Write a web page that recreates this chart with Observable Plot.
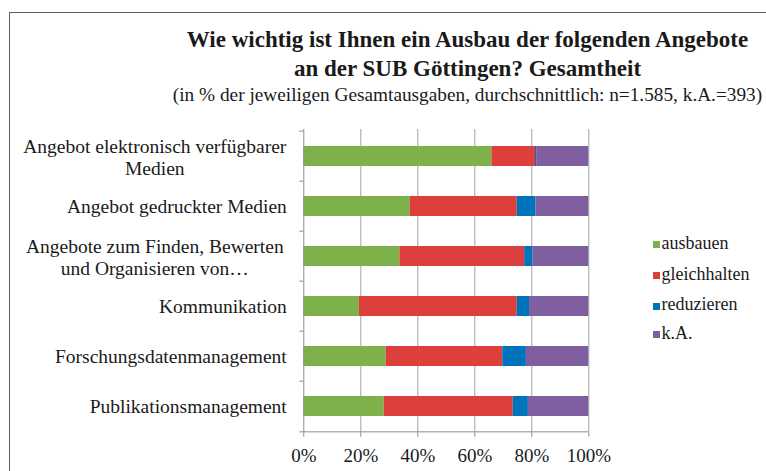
<!DOCTYPE html>
<html>
<head>
<meta charset="utf-8">
<script src="https://cdn.jsdelivr.net/npm/d3@7"></script>
<script src="https://cdn.jsdelivr.net/npm/@observablehq/plot@0.6"></script>
<style>
  html, body { margin: 0; padding: 0; background: #fff; }
  #wrap { position: relative; width: 766px; height: 471px; overflow: hidden; font-family: 'Liberation Serif', 'Times New Roman', serif; color: #1a1a1a; }
  #frame { position: absolute; left: 9px; top: 12px; width: 800px; height: 520px; border: 1.5px solid #5e5e5e; box-sizing: border-box; }
  .t { position: absolute; left: 167.5px; width: 600px; text-align: center; white-space: nowrap; font-family: 'Liberation Serif', serif; }
  .title { font-weight: bold; font-size: 23px; line-height: 23px; }
  .sub { font-size: 19.3px; line-height: 19px; }
  #chart { position: absolute; left: 0; top: 0; }
  .lg { position: absolute; left: 653px; }
  .sw { position: absolute; width: 7px; height: 7px; }
  .lt { position: absolute; left: 8.5px; font-size: 18px; line-height: 18px; white-space: nowrap; font-family: 'Liberation Serif', serif; }
  svg g[aria-label="x-axis tick label"], svg g[aria-label="x-axis tick label"] text { fill: #1a1a1a; }
</style>
</head>
<body>
<div id="wrap">
  <div id="frame"></div>
  <div id="chart"></div>
  <div class="t title" style="top:27.7px">Wie wichtig ist Ihnen ein Ausbau der folgenden Angebote</div>
  <div class="t title" style="top:56.7px">an der SUB Göttingen? Gesamtheit</div>
  <div class="t sub" style="top:85px">(in % der jeweiligen Gesamtausgaben, durchschnittlich: n=1.585, k.A.=393)</div>
  <div id="legend"></div>
</div>
<script>
const categories = [
  "Angebot elektronisch verfügbarer\nMedien",
  "Angebot gedruckter Medien",
  "Angebote zum Finden, Bewerten\nund Organisieren von…",
  "Kommunikation",
  "Forschungsdatenmanagement",
  "Publikationsmanagement"
];
const series = ["ausbauen", "gleichhalten", "reduzieren", "k.A."];
const ausbauen     = [66.0, 37.4, 33.7, 19.5, 28.9, 28.2];
const gleichhalten = [15.3, 37.5, 43.8, 55.4, 40.9, 45.3];
const reduzieren   = [0.4,  6.6,  2.9,  4.3,  8.3,  5.3];
const keineAngabe  = [18.3, 18.5, 19.6, 20.8, 21.9, 21.2];
const xTicks = [0, 20, 40, 60, 80, 100];
const colors = ["#7db14a", "#dd3f3d", "#0073bd", "#7f5fa0"];

const valuesBySeries = [ausbauen, gleichhalten, reduzieren, keineAngabe];
const rows = [];
categories.forEach((c, i) => {
  series.forEach((s, j) => rows.push({category: c, series: s, value: valuesBySeries[j][i]}));
});

const multi = categories.filter(c => c.includes("\n"));
const single = categories.filter(c => !c.includes("\n"));
const step = (433 - 129) / categories.length;
const axisGray = "#8c8c8c";

const chart = Plot.plot({
  width: 766,
  height: 471,
  marginLeft: 303.3,
  marginRight: 177.7,
  marginTop: 129,
  marginBottom: 38.3,
  style: {fontFamily: "'Liberation Serif', 'Times New Roman', serif", fontSize: "19px", color: axisGray, background: "transparent", overflow: "visible"},
  x: {domain: [0, 100], ticks: xTicks, tickFormat: d => d + "%", tickSize: 4, tickPadding: 11, label: null},
  y: {domain: categories, paddingInner: 0.6, paddingOuter: 0.3, axis: null},
  color: {domain: series, range: colors},
  marks: [
    Plot.gridX(xTicks.slice(1), {stroke: "#a3a3a3", strokeOpacity: 1, strokeWidth: 1}),
    Plot.barX(rows, Plot.stackX({y: "category", x: "value", fill: "series", z: "series"})),
    Plot.ruleX([0], {stroke: axisGray, strokeWidth: 1}),
    Plot.ruleY(categories.slice(-1), {dy: step / 2, x1: 0, x2: 100, stroke: axisGray}),
    Plot.ruleY(categories, {dy: -step / 2, x1: -1.4, x2: 0, stroke: axisGray}),
    Plot.ruleY(categories.slice(-1), {dy: step / 2, x1: -1.4, x2: 0, stroke: axisGray}),
    Plot.text(single, {y: d => d, text: d => d, frameAnchor: "left", dx: -17, textAnchor: "end", fill: "#1a1a1a", fontSize: 19.5}),
    Plot.text(multi, {y: d => d, text: d => d, frameAnchor: "left", dx: -149, textAnchor: "middle", lineHeight: 1.13, fill: "#1a1a1a", fontSize: 19.5})
  ]
});
document.getElementById("chart").appendChild(chart);

const legendCenters = [244.5, 275.5, 306, 334.5];
const legend = document.getElementById("legend");
series.forEach((s, i) => {
  const row = document.createElement("div");
  row.className = "lg";
  row.style.top = legendCenters[i] + "px";
  const sw = document.createElement("div");
  sw.className = "sw";
  sw.style.background = colors[i];
  sw.style.top = "-3.5px";
  const lt = document.createElement("div");
  lt.className = "lt";
  lt.style.top = "-11px";
  lt.textContent = s;
  row.appendChild(sw);
  row.appendChild(lt);
  legend.appendChild(row);
});
</script>
</body>
</html>
